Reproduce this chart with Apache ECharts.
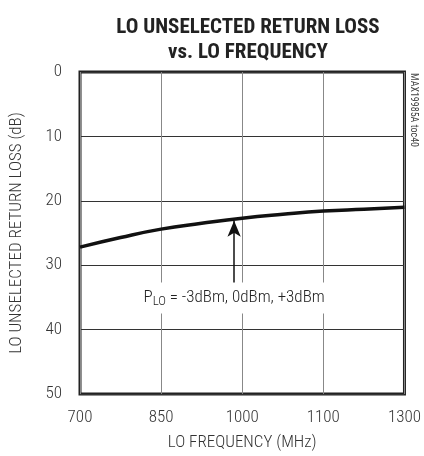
<!DOCTYPE html>
<html>
<head>
<meta charset="utf-8">
<script src="https://cdn.jsdelivr.net/npm/echarts@6/dist/echarts.min.js"></script>
<style>html,body{margin:0;padding:0;background:#fff}#c{width:424px;height:456px}</style>
</head>
<body>
<div id="c"></div>
<script>
// Data
var freqMHz = [700, 775, 850, 925, 1000, 1075, 1150, 1225, 1300];
var returnLossDb = [27.2, 25.7, 24.4, 23.5, 22.7, 22.1, 21.6, 21.3, 21.0];
var xTickValues = [700, 850, 1000, 1150, 1300];
var xTickLabels = ['700', '850', '1000', '1100', '1300'];
var yTickValues = [0, 10, 20, 30, 40, 50];
var arrowFreq = 985, arrowFrom = 33, arrowTo = 23.1;
var labelFreq = 985, labelY = 35.1;

var FONT = '"Roboto Condensed", "DejaVu Sans Condensed", sans-serif';
var chart = echarts.init(document.getElementById('c'), null, {renderer: 'canvas'});
chart.setOption({
  animation: false,
  backgroundColor: '#fff',
  title: {
    text: 'LO UNSELECTED RETURN LOSS\nvs. LO FREQUENCY',
    left: 243, top: 10, textAlign: 'center',
    textStyle: {fontFamily: FONT, fontWeight: 'bold', fontSize: 21, lineHeight: 25, color: '#222'}
  },
  grid: {left: 80, right: 18, top: 72, bottom: 59, show: true, borderColor: '#222', borderWidth: 3, backgroundColor: 'transparent'},
  xAxis: {
    type: 'value', min: 700, max: 1300, interval: 150,
    name: 'LO FREQUENCY (MHz)', nameLocation: 'middle', nameGap: 40,
    nameTextStyle: {fontFamily: FONT, fontWeight: 300, fontSize: 17, color: '#333'},
    axisLine: {show: false}, axisTick: {show: false},
    axisLabel: {fontFamily: FONT, fontWeight: 300, fontSize: 17, color: '#333', margin: 15,
      formatter: function (v) { var i = xTickValues.indexOf(v); return i >= 0 ? xTickLabels[i] : ''; }},
    splitLine: {show: true, lineStyle: {color: '#888', width: 1}}
  },
  yAxis: {
    type: 'value', min: 0, max: 50, interval: 10, inverse: true,
    name: 'LO UNSELECTED RETURN LOSS (dB)', nameLocation: 'middle', nameGap: 55,
    nameTextStyle: {fontFamily: FONT, fontWeight: 300, fontSize: 17, color: '#333'},
    axisLine: {show: false}, axisTick: {show: false},
    axisLabel: {fontFamily: FONT, fontWeight: 300, fontSize: 17, color: '#333', margin: 18,
      formatter: function (v) { return yTickValues.indexOf(v) >= 0 ? String(v) : ''; }},
    splitLine: {show: true, lineStyle: {color: '#333', width: 1}}
  },
  graphic: [{
    type: 'text', x: 408, y: 73, rotation: -Math.PI / 2,
    style: {text: 'MAX19985A toc40', fontFamily: FONT, fontSize: 10, fill: '#444', textAlign: 'left', textVerticalAlign: 'bottom'}
  }],
  series: [{
    type: 'line',
    data: freqMHz.map(function (f, i) { return [f, returnLossDb[i]]; }),
    smooth: true, showSymbol: false,
    lineStyle: {color: '#111', width: 3.5},
    z: 5,
    markLine: {
      silent: true, symbol: ['none', 'arrow'], symbolSize: [10, 16],
      lineStyle: {color: '#111', width: 1.5, type: 'solid'},
      label: {show: false},
      data: [[{coord: [arrowFreq, arrowFrom]}, {coord: [arrowFreq, arrowTo]}]]
    },
    markPoint: {
      silent: true, symbol: 'rect', symbolSize: 0,
      label: {
        show: true, position: 'inside',
        formatter: 'P{s|LO} = -3dBm, 0dBm, +3dBm',
        fontFamily: FONT, fontWeight: 300, fontSize: 17, color: '#222',
        backgroundColor: '#fff', padding: [5, 3],
        rich: {s: {fontFamily: FONT, fontWeight: 300, fontSize: 13, color: '#222', verticalAlign: 'bottom', padding: [8, 0, 0, 0]}}
      },
      data: [{coord: [labelFreq, labelY]}]
    }
  }]
});
</script>
</body>
</html>
